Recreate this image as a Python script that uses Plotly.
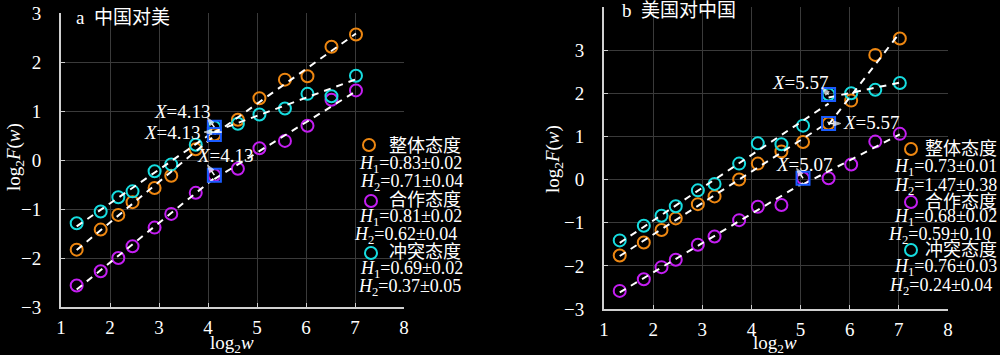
import plotly.graph_objects as go
import numpy as np

W, H = 1000, 355

# ---------------- data ----------------
log2w = [1.32, 1.81, 2.17, 2.46, 2.91, 3.25, 3.75, 4.13, 4.61, 5.05, 5.57, 6.03, 6.52, 7.02]

# panel a: 中国对美
a_overall = [-1.83, -1.42, -1.12, -0.86, -0.57, -0.32, 0.22, 0.52, 0.82, 1.26, 1.64, 1.71, 2.31, 2.56]
a_coop = [-2.56, -2.27, -2.00, -1.76, -1.38, -1.10, -0.67, -0.31, -0.18, 0.24, 0.39, 0.70, 1.23, 1.42]
a_conflict = [-1.29, -1.05, -0.76, -0.64, -0.23, -0.09, 0.31, 0.67, 0.74, 0.93, 1.05, 1.35, 1.30, 1.72]
a_H1 = [0.83, 0.81, 0.69]
a_H1_err = [0.02, 0.02, 0.02]
a_H2 = [0.71, 0.62, 0.37]
a_H2_err = [0.04, 0.04, 0.05]
a_break = [4.13, 4.13, 4.13]

# panel b: 美国对中国
b_overall = [-1.76, -1.46, -1.17, -0.90, -0.57, -0.39, 0.00, 0.37, 0.65, 0.87, 1.30, 1.83, 2.89, 3.27]
b_coop = [-2.58, -2.31, -2.03, -1.86, -1.51, -1.32, -0.94, -0.63, -0.59, 0.03, 0.03, 0.35, 0.88, 1.06]
b_conflict = [-1.41, -1.07, -0.84, -0.62, -0.25, -0.10, 0.37, 0.84, 0.82, 1.25, 1.97, 2.00, 2.08, 2.24]
b_H1 = [0.73, 0.68, 0.76]
b_H1_err = [0.01, 0.02, 0.03]
b_H2 = [1.47, 0.59, 0.24]
b_H2_err = [0.38, 0.10, 0.04]
b_break = [5.57, 5.05, 5.57]
b_break_label = ["5.57", "5.07", "5.57"]

series_names = ["整体态度", "合作态度", "冲突态度"]
colors = ["#ee8711", "#c41ef2", "#16dde0"]
square_color = "#1a5cff"
SERIF = "Liberation Serif, Times New Roman, Noto Sans CJK SC"

fig = go.Figure()


def add_panel(xa, ya, ys_list, H1s, H2s, breaks):
    # circles
    for ys, col, name in zip(ys_list, colors, series_names):
        fig.add_trace(go.Scatter(
            x=log2w, y=ys, mode="markers", name=name, showlegend=False,
            marker=dict(symbol="circle-open", size=12, color=col,
                        line=dict(width=2, color=col)),
            xaxis=xa, yaxis=ya))
    # dashed two-segment fits (slopes = H1, H2)
    for ys, h1, h2, bp in zip(ys_list, H1s, H2s, breaks):
        x = np.array(log2w)
        y = np.array(ys)
        k = int(np.argmin(np.abs(x - bp)))
        for seg, h in ((slice(0, k + 1), h1), (slice(k, len(x)), h2)):
            xs, yseg = x[seg], y[seg]
            b = float(np.mean(yseg - h * xs))
            xx = [float(xs[0]), float(xs[-1])]
            fig.add_trace(go.Scatter(
                x=xx, y=[h * v + b for v in xx], mode="lines", showlegend=False,
                line=dict(color="white", width=2, dash="7px,6px"),
                xaxis=xa, yaxis=ya, hoverinfo="skip"))
    # break squares
    for ys, bp in zip(ys_list, breaks):
        k = int(np.argmin(np.abs(np.array(log2w) - bp)))
        fig.add_trace(go.Scatter(
            x=[log2w[k]], y=[ys[k]], mode="markers", showlegend=False,
            marker=dict(symbol="square-open", size=13, color=square_color,
                        line=dict(width=2, color=square_color)),
            xaxis=xa, yaxis=ya))


add_panel("x", "y", [a_overall, a_coop, a_conflict], a_H1, a_H2, a_break)
add_panel("x2", "y2", [b_overall, b_coop, b_conflict], b_H1, b_H2, b_break)

axis_common = dict(
    range=[1, 8], dtick=1, showgrid=True, gridcolor="#3a3a3a", gridwidth=1,
    showline=True, linecolor="#d0d0d0", linewidth=2, zeroline=False,
    ticks="inside", ticklen=4, tickcolor="#d0d0d0", tickwidth=1, automargin=False,
    tickfont=dict(family=SERIF, size=19, color="white"), fixedrange=True)

fig.update_layout(
    width=W, height=H, margin=dict(l=0, r=0, t=0, b=0, autoexpand=False),
    paper_bgcolor="black", plot_bgcolor="black", showlegend=False,
    xaxis=dict(axis_common, domain=[61 / W, 404 / W], anchor="y", ticklabelstandoff=2),
    yaxis=dict(axis_common, range=[-3, 3], domain=[1 - 307 / H, 1 - 13 / H], anchor="x",
               ticklabelstandoff=14),
    xaxis2=dict(axis_common, domain=[604 / W, 948 / W], anchor="y2", ticklabelstandoff=2),
    yaxis2=dict(axis_common, range=[-3, 4], domain=[1 - 309 / H, 1 - 7 / H], anchor="x2",
                ticklabelstandoff=14),
)

ann = []


def ptext(text, px, py, size=19, anchor="left", angle=0):
    ann.append(dict(text=text, x=px / W, y=1 - py / H, xref="paper", yref="paper",
                    xanchor=anchor, yanchor="middle", showarrow=False, textangle=angle,
                    font=dict(family=SERIF, size=size, color="white")))


# panel titles
ptext("a  中国对美", 74, 17)
ptext("b  美国对中国", 620, 11)

# axis titles
ptext("log<sub>2</sub><i>w</i>", 232, 344, anchor="center")
ptext("log<sub>2</sub><i>w</i>", 775, 344, anchor="center")
ptext("log<sub>2</sub><i>F</i>(<i>w</i>)", 15, 157, anchor="center", angle=-90)
ptext("log<sub>2</sub><i>F</i>(<i>w</i>)", 554, 159, anchor="center", angle=-90)

# legends (text + circle markers)
shapes = []


def legend_block(name_pos, h1_pos, h2_pos, circ_pos, i, H1s, E1s, H2s, E2s):
    t1 = f"<i>H</i><sub>1</sub>={H1s[i]:.2f}±{E1s[i]:.2f}"
    t2 = f"<i>H</i><sub>2</sub>={H2s[i]:.2f}±{E2s[i]:.2f}"
    ptext(series_names[i], *name_pos, size=18, anchor="right")
    ptext(t1, *h1_pos, size=18, anchor="right")
    ptext(t2, *h2_pos, size=18, anchor="right")
    cx, cy = circ_pos
    r = 6
    shapes.append(dict(type="circle", xref="paper", yref="paper",
                       x0=(cx - r) / W, x1=(cx + r) / W, y0=1 - (cy + r) / H, y1=1 - (cy - r) / H,
                       line=dict(color=colors[i], width=2)))


a_leg = [((463, 146), (464, 164), (465, 182), (369, 145)),
         ((463, 200), (464, 218), (459, 235), (371, 201)),
         ((463, 252), (465, 269), (463, 287), (371, 253))]
for i, (n, h1, h2, c) in enumerate(a_leg):
    legend_block(n, h1, h2, c, i, a_H1, a_H1_err, a_H2, a_H2_err)

b_leg = [((999, 149), (999, 167), (999, 186), (911, 149)),
         ((999, 202), (999, 218), (993, 235), (911, 202)),
         ((999, 250), (999, 267), (994, 286), (911, 250))]
for i, (n, h1, h2, c) in enumerate(b_leg):
    legend_block(n, h1, h2, c, i, b_H1, b_H1_err, b_H2, b_H2_err)


# breakpoint annotations: arrow from square toward label
def arrow(xa, ya, head, tail):
    fig.add_trace(go.Scatter(
        x=[tail[0], head[0]], y=[tail[1], head[1]], mode="lines+markers",
        line=dict(color="white", width=1.5), showlegend=False, hoverinfo="skip",
        marker=dict(symbol="arrow", size=[0, 8], color="white", angleref="previous"),
        xaxis=xa, yaxis=ya))


def dtext(xa, ya, text, pos):
    ann.append(dict(text=text, x=pos[0], y=pos[1], xref=xa, yref=ya, showarrow=False,
                    xanchor="center", yanchor="middle",
                    font=dict(family=SERIF, size=19, color="white")))


# panel a
dtext("x", "y", f"<i>X</i>={a_break[2]:.2f}", (3.47, 0.98))
arrow("x", "y", (3.99, 0.86), (4.13, a_conflict[7]))
dtext("x", "y", f"<i>X</i>={a_break[0]:.2f}", (3.27, 0.57))
arrow("x", "y", (3.92, 0.57), (4.28, 0.57))
dtext("x", "y", f"<i>X</i>={a_break[1]:.2f}", (4.36, 0.10))
arrow("x", "y", (3.99, -0.10), (4.13, a_coop[7]))

# panel b
dtext("x2", "y2", f"<i>X</i>={b_break_label[2]}", (4.99, 2.26))
arrow("x2", "y2", (5.44, 2.12), (5.57, b_conflict[10]))
dtext("x2", "y2", f"<i>X</i>={b_break_label[0]}", (6.45, 1.33))
arrow("x2", "y2", (5.82, 1.30), (5.57, b_overall[10]))
dtext("x2", "y2", f"<i>X</i>={b_break_label[1]}", (5.09, 0.36))
arrow("x2", "y2", (4.92, 0.26), (5.05, b_coop[9]))

fig.update_layout(annotations=ann, shapes=shapes)
fig.write_html(
    "out.html",
    config={"displayModeBar": False},
    post_script="document.body.style.margin='0';document.body.style.padding='0';"
                "document.body.style.background='black';document.body.style.overflow='hidden';")
